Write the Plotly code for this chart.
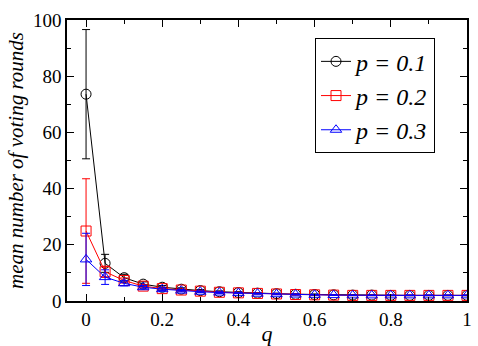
import plotly.graph_objects as go

q = [0, 0.05, 0.1, 0.15, 0.2, 0.25, 0.3, 0.35, 0.4, 0.45, 0.5, 0.55, 0.6, 0.65, 0.7, 0.75, 0.8, 0.85, 0.9, 0.95, 1.0]

p01 = [73.6, 13.4, 8.3, 6.0, 4.9, 4.2, 3.7, 3.3, 3.0, 2.8, 2.6, 2.4, 2.3, 2.2, 2.1, 2.1, 2.0, 2.0, 2.0, 2.0, 2.0]
p01_err = [23.0, 3.2, 1.2, 0.8, 0.6, 0.5, 0.4, 0.3, 0.3, 0.2, 0.2, 0.2, 0.2, 0.1, 0.1, 0.1, 0.1, 0.1, 0.1, 0.1, 0.1]

p02 = [24.9, 10.4, 7.3, 5.3, 4.4, 3.9, 3.5, 3.1, 2.9, 2.7, 2.5, 2.3, 2.2, 2.1, 2.0, 2.0, 2.0, 2.0, 2.0, 2.0, 2.0]
p02_err = [18.6, 2.0, 0.9, 0.6, 0.5, 0.4, 0.3, 0.3, 0.2, 0.2, 0.2, 0.2, 0.1, 0.1, 0.1, 0.1, 0.1, 0.1, 0.1, 0.1, 0.1]

p03 = [14.8, 8.5, 6.3, 4.9, 4.2, 3.7, 3.3, 3.0, 2.8, 2.6, 2.4, 2.3, 2.2, 2.1, 2.0, 2.0, 2.0, 2.0, 2.0, 2.0, 2.0]
p03_err = [9.3, 2.6, 0.9, 0.6, 0.5, 0.4, 0.3, 0.3, 0.2, 0.2, 0.2, 0.2, 0.1, 0.1, 0.1, 0.1, 0.1, 0.1, 0.1, 0.1, 0.1]

series = [
    ("<i>p = 0.1</i>", p01, p01_err, "black", "circle-open"),
    ("<i>p = 0.2</i>", p02, p02_err, "red", "square-open"),
    ("<i>p = 0.3</i>", p03, p03_err, "blue", "triangle-up-open"),
]

fig = go.Figure()
for name, y, err, color, sym in series:
    fig.add_trace(go.Scatter(
        x=q, y=y, name=name, mode="lines+markers",
        line=dict(color=color, width=1),
        marker=dict(symbol=sym, size=10, color=color, line=dict(width=1, color=color)),
        error_y=dict(type="data", array=err, visible=True, color=color, thickness=1, width=4),
    ))

serif = "Liberation Serif"
axis_common = dict(
    showline=True, linecolor="black", linewidth=1.5, mirror="allticks",
    ticks="inside", ticklen=7, tickcolor="black", tickwidth=1,
    showgrid=False, zeroline=False,
    tickfont=dict(size=19),
)

fig.update_layout(
    template="none",
    width=478, height=346,
    margin=dict(l=67, r=11, t=20, b=45),
    paper_bgcolor="white", plot_bgcolor="white",
    font=dict(family=serif, color="black", size=19),
    showlegend=True,
    legend=dict(
        x=0.62, y=0.935, xanchor="left", yanchor="top",
        bordercolor="black", borderwidth=1, bgcolor="white",
        font=dict(size=24),
        itemwidth=30, tracegroupgap=0,
    ),
    xaxis=dict(
        range=[-0.05, 1.0],
        tickvals=[0, 0.2, 0.4, 0.6, 0.8, 1.0], ticktext=["0", "0.2", "0.4", "0.6", "0.8", "1"],
        minor=dict(tickvals=[0.1, 0.3, 0.5, 0.7, 0.9], ticks="inside", ticklen=4, tickcolor="black"),
        title=dict(text="<i>q</i>", font=dict(size=22), standoff=2),
        **axis_common,
    ),
    yaxis=dict(
        range=[0, 100],
        tickvals=[0, 20, 40, 60, 80, 100],
        minor=dict(tickvals=[10, 30, 50, 70, 90], ticks="inside", ticklen=4, tickcolor="black"),
        title=dict(text="<i>mean number of voting rounds</i>", font=dict(size=21), standoff=4),
        **axis_common,
    ),
)

fig.write_html("out.html")
